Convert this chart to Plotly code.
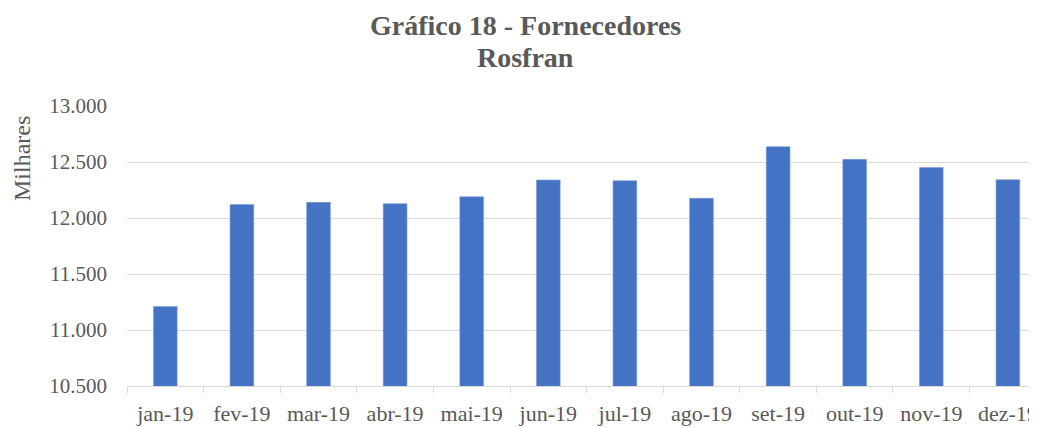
import plotly.graph_objects as go

categories = ["jan-19", "fev-19", "mar-19", "abr-19", "mai-19", "jun-19",
              "jul-19", "ago-19", "set-19", "out-19", "nov-19", "dez-19"]
values = [11210, 12120, 12140, 12128, 12190, 12339,
          12333, 12176, 12637, 12524, 12452, 12342]
y_ticks = [10500, 11000, 11500, 12000, 12500, 13000]
y_tick_labels = ["10.500", "11.000", "11.500", "12.000", "12.500", "13.000"]
title_line1 = "Gráfico 18 - Fornecedores"
title_line2 = "Rosfran"
y_title = "Milhares"

FONT = "Liberation Serif"
GREY = "#595959"

fig = go.Figure()
fig.add_trace(go.Bar(
    x=categories, y=values,
    marker=dict(color="#4472C4", line=dict(width=0.6, color="#7f9fd8")),
    width=0.31,
))

# page body has an 8px margin; target pixel positions are in window coords
OFF = 8
W, H = 1037 - OFF, 428 - OFF
PL, PT, PB = 127, 106, 386          # plot area in window pixels
L, T = PL - OFF, PT - OFF
B = H - (PB - OFF)
R = 0


def px_x(x):
    return (x - PL) / (1037 - PL)


def px_y(y):
    return (PB - y) / (PB - PT)


fig.update_layout(
    width=W, height=H,
    margin=dict(l=L, r=R, t=T, b=B, autoexpand=False),
    paper_bgcolor="white", plot_bgcolor="white",
    showlegend=False,
    font=dict(family=FONT, color=GREY),
    xaxis=dict(
        type="category",
        range=[-0.5, 11.38],
        showgrid=False,
        showline=True, linecolor="#d9d9d9", linewidth=1,
        ticks="outside", tickson="boundaries", ticklen=6, tickcolor="#d9d9d9",
        ticklabelstandoff=8,
        tickfont=dict(family=FONT, size=22, color=GREY),
    ),
    yaxis=dict(
        range=[10500, 13000],
        tickvals=y_ticks, ticktext=y_tick_labels,
        showgrid=True, gridcolor="#d9d9d9", gridwidth=1,
        zeroline=False, showline=False,
        ticks="", ticklabelstandoff=19,
        tickfont=dict(family=FONT, size=21, color=GREY),
    ),
    annotations=[
        dict(text="<b>%s</b>" % title_line1, xref="paper", yref="paper",
             x=px_x(525), y=px_y(26),
             showarrow=False, xanchor="center", yanchor="middle",
             font=dict(family=FONT, size=28, color=GREY)),
        dict(text="<b>%s</b>" % title_line2, xref="paper", yref="paper",
             x=px_x(525), y=px_y(58),
             showarrow=False, xanchor="center", yanchor="middle",
             font=dict(family=FONT, size=28, color=GREY)),
        dict(text=y_title, xref="paper", yref="paper",
             x=px_x(22), y=px_y(159),
             showarrow=False, textangle=-90, xanchor="center", yanchor="middle",
             font=dict(family=FONT, size=24, color=GREY)),
    ],
)

fig.write_html("out.html")
